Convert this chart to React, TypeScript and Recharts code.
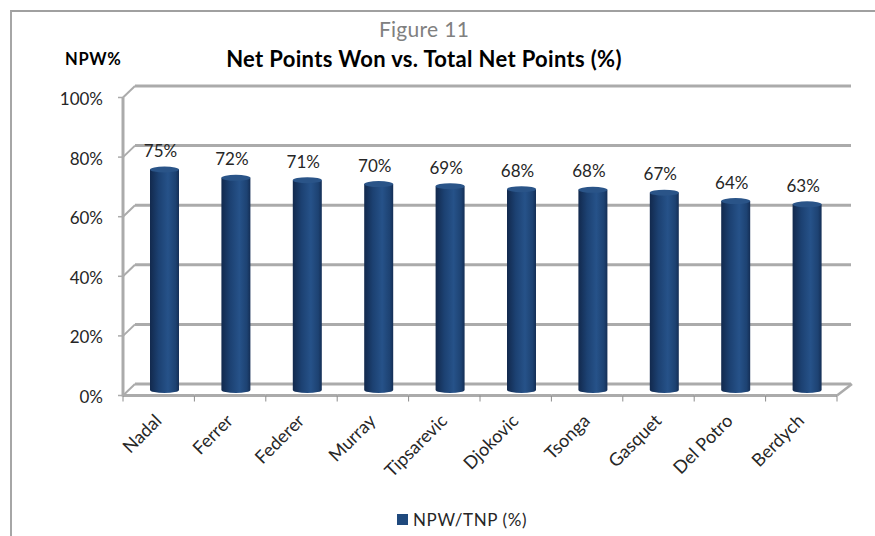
import React from 'react';
import { BarChart, Bar, XAxis, YAxis, CartesianGrid, Legend, LabelList } from 'recharts';

const players = ['Nadal', 'Ferrer', 'Federer', 'Murray', 'Tipsarevic', 'Djokovic', 'Tsonga', 'Gasquet', 'Del Potro', 'Berdych'];
const npwValues = [75, 72.2, 71.4, 70.1, 69.4, 68.4, 68.2, 67.2, 64.4, 63.3];
const yTicks = [0, 20, 40, 60, 80, 100];

const chartData = players.map((name, i) => ({ name, npw: npwValues[i] }));

const FONT = 'Lato, sans-serif';
const GRID = '#ababab';
const BLUE = '#1f497d';

// fake 3D box: the bars sit mid depth, back wall up-right, floor front down-left
const PLOT_LEFT = 129;
const BACK_DX = 6;
const BACK_DY = -6;
const FRONT_DX = -6;
const FRONT_DY = 5.5;
const BAND = 71.4;

const BackLine = (props: any) => {
  const { x1, x2, y1 } = props;
  return (
    <line key={props.key} x1={x1 + BACK_DX} x2={x2 + BACK_DX + 2} y1={y1 + BACK_DY} y2={y1 + BACK_DY} stroke={GRID} strokeWidth={3} />
  );
};

const YTick = ({ y, payload }: any) => {
  const frontX = PLOT_LEFT + FRONT_DX;
  const frontY = y + FRONT_DY;
  return (
    <g>
      <line x1={frontX - 5} x2={frontX} y1={frontY} y2={frontY} stroke={GRID} strokeWidth={1.5} />
      <line x1={frontX} x2={PLOT_LEFT + BACK_DX} y1={frontY} y2={y + BACK_DY} stroke={GRID} strokeWidth={2} />
      <text x={103} y={y + 7} dy={6} textAnchor="end" fontFamily={FONT} fontSize={17} fill="#262626">
        {`${payload.value}%`}
      </text>
    </g>
  );
};

const XTick = ({ x, y, payload, index }: any) => {
  const startX = x - BAND / 2 + FRONT_DX;
  const frontY = y + FRONT_DY;
  const isLast = index === players.length - 1;
  return (
    <g>
      {index === 0 && <line x1={startX} x2={startX} y1={frontY + 1} y2={frontY - 298} stroke={GRID} strokeWidth={3} />}
      <line x1={startX} x2={startX + BAND} y1={frontY} y2={frontY} stroke={GRID} strokeWidth={3} />
      <line x1={startX} x2={startX} y1={frontY} y2={frontY + 6} stroke="#8c8c8c" strokeWidth={1} />
      {isLast && (
        <>
          <line x1={startX + BAND} x2={startX + BAND} y1={frontY} y2={frontY + 6} stroke="#8c8c8c" strokeWidth={1} />
          <line x1={startX + BAND} x2={startX + BAND + 15} y1={frontY} y2={y + BACK_DY} stroke={GRID} strokeWidth={2.5} />
        </>
      )}
      <text
        x={x - 2}
        y={y + 32}
        textAnchor="end"
        transform={`rotate(-45 ${x - 2} ${y + 32})`}
        fontFamily={FONT}
        fontSize={18}
        fill="#262626"
      >
        {payload.value}
      </text>
    </g>
  );
};

const Cylinder = ({ x, y, width, height }: any) => {
  const ry = 3;
  const rx = width / 2;
  const bottom = y + height;
  const d = `M${x},${y + ry} L${x},${bottom} A${rx},${ry} 0 0 0 ${x + width},${bottom} L${x + width},${y + ry} Z`;
  return (
    <g>
      <path d={d} fill="url(#cylinderFill)" />
      <ellipse cx={x + rx} cy={y + ry} rx={rx} ry={ry} fill="#2a5488" />
    </g>
  );
};

const LegendContent = () => (
  <div style={{ position: 'absolute', left: 397, top: 0, display: 'flex', alignItems: 'center', fontFamily: FONT, fontSize: 17, color: '#262626', letterSpacing: 0.6 }}>
    <span style={{ width: 11, height: 11, background: BLUE, marginRight: 5, display: 'inline-block' }} />
    NPW/TNP (%)
  </div>
);

export default function App() {
  return (
    <div style={{ position: 'absolute', left: 0, top: 0, width: 875, height: 536, overflow: 'hidden', background: '#fff' }}>
      <div style={{ position: 'absolute', left: 10, top: 10, width: 865, height: 526, borderLeft: '2px solid #a6a6a6', borderTop: '2px solid #a0a0a0' }} />
      <div style={{ position: 'absolute', left: 0, width: 848, top: 16, textAlign: 'center', fontFamily: FONT, fontSize: 21, color: '#808080', letterSpacing: 0.3 }}>
        Figure 11
      </div>
      <div style={{ position: 'absolute', left: 0, width: 848, top: 45, textAlign: 'center', fontFamily: FONT, fontSize: 22, fontWeight: 700, color: '#000', letterSpacing: 0.33 }}>
        Net Points Won vs. Total Net Points (%)
      </div>
      <div style={{ position: 'absolute', left: 65, top: 49, fontFamily: FONT, fontSize: 16.5, fontWeight: 700, color: '#000', letterSpacing: 0.7 }}>
        NPW%
      </div>
      <BarChart width={875} height={536} data={chartData} margin={{ top: 92, right: 32, bottom: 0, left: 0 }} style={{ position: 'absolute', left: 0, top: 0 }}>
        <defs>
          <linearGradient id="cylinderFill" x1="0" x2="1" y1="0" y2="0">
            <stop offset="0%" stopColor="#12294d" />
            <stop offset="30%" stopColor="#1c4172" />
            <stop offset="62%" stopColor="#265289" />
            <stop offset="88%" stopColor="#1d4272" />
            <stop offset="100%" stopColor="#142e55" />
          </linearGradient>
        </defs>
        <CartesianGrid vertical={false} horizontal={BackLine} />
        <XAxis dataKey="name" axisLine={false} tickLine={false} tickSize={0} tickMargin={0} height={116} interval={0} tick={XTick} />
        <YAxis domain={[0, 100]} ticks={yTicks} width={129} axisLine={false} tickLine={false} tick={YTick} />
        <Legend verticalAlign="bottom" height={40} content={LegendContent} wrapperStyle={{ left: 0, bottom: -3, width: 875, height: 30 }} />
        <Bar dataKey="npw" barSize={29} shape={Cylinder} isAnimationActive={false}>
          <LabelList
            dataKey="npw"
            position="top"
            offset={9.5}
            dx={-4}
            formatter={(v: number) => `${Math.round(v)}%`}
            style={{ fontFamily: FONT, fontSize: 17, fill: '#262626' }}
          />
        </Bar>
      </BarChart>
    </div>
  );
}
